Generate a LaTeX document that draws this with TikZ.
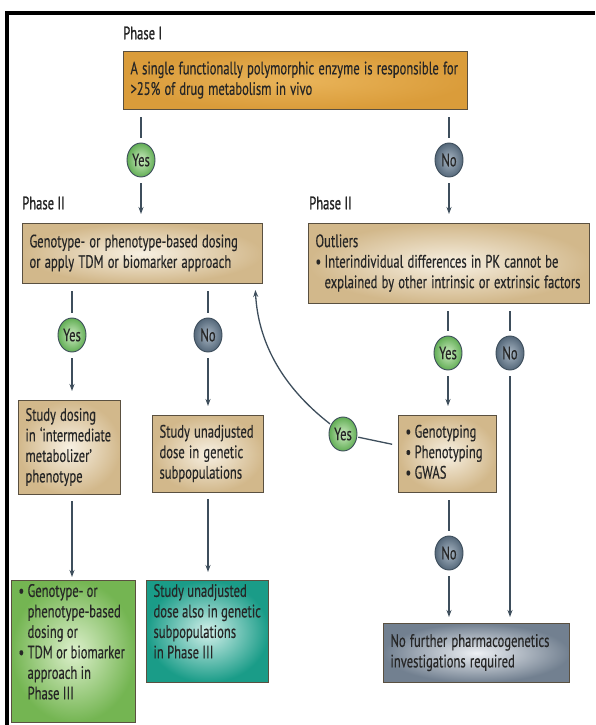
\documentclass[tikz,border=0pt]{standalone}
\usepackage{fontspec}
\usepackage{graphicx}
\setmainfont{PT Sans}[FakeBold=0.4]
\newfontfamily\phasefont{PT Sans}[FakeBold=1.2]
\usetikzlibrary{shapes.geometric,arrows.meta}
\definecolor{edgec}{HTML}{5A5040}
\definecolor{linec}{HTML}{3E4E5C}
\definecolor{txtc}{HTML}{262626}
\definecolor{orOut}{HTML}{DA9C3A}
\definecolor{orIn}{HTML}{E9B45A}
\definecolor{beOut}{HTML}{D2B88B}
\definecolor{beIn}{HTML}{F7F0E2}
\definecolor{grOut}{HTML}{74B552}
\definecolor{grIn}{HTML}{DDF0CC}
\definecolor{teOut}{HTML}{1A9C88}
\definecolor{teIn}{HTML}{D2F0EA}
\definecolor{gyOut}{HTML}{728090}
\definecolor{gyIn}{HTML}{EDF0F4}
\definecolor{yOut}{HTML}{62AE55}
\definecolor{yIn}{HTML}{CDEBC2}
\definecolor{nOut}{HTML}{55687A}
\definecolor{nIn}{HTML}{A9B7C4}
\newcommand{\bodyfont}{\fontsize{18}{20.5}\selectfont}
\newcommand{\sq}[1]{\scalebox{0.70}[1]{\begin{tabular}{@{}l@{}}#1\end{tabular}}}
\newcommand{\sqt}[1]{\scalebox{0.70}[1]{#1}}
\newcommand{\bul}{\makebox[13pt][l]{\textbullet}}
\newcommand{\ind}{\hspace*{13pt}}
\begin{document}
\begin{tikzpicture}[x=1pt,y=-1pt,
  box/.style={draw=edgec, line width=1pt, anchor=north west, align=left,
    inner xsep=7pt, inner ysep=0pt, font=\bodyfont, text=txtc},
  orangebox/.style={box, shade, inner color=orIn, outer color=orOut},
  beigebox/.style={box, shade, inner color=beIn, outer color=beOut},
  greenbox/.style={box, shade, inner color=grIn, outer color=grOut},
  tealbox/.style={box, shade, inner color=teIn, outer color=teOut},
  greybox/.style={box, shade, inner color=gyIn, outer color=gyOut},
  dot/.style={ellipse, minimum width=28pt, minimum height=34pt, inner sep=0pt,
    draw=linec, line width=0.9pt, font=\bodyfont, text=txtc},
  yesdot/.style={dot, shade, inner color=yIn, outer color=yOut},
  nodot/.style={dot, shade, inner color=nIn, outer color=nOut},
  phase/.style={anchor=west, inner sep=0pt, font=\phasefont\bodyfont, text=txtc},
  conn/.style={draw=linec, line width=1.3pt, shorten <=6pt, shorten >=5pt},
  arr/.style={conn, -{Stealth[length=7pt,width=5pt]}, shorten >=9pt}]
\useasboundingbox[fill=white] (0,0) rectangle (595,725);
% frame
\draw[line width=3.5pt, black] (7,725) -- (7,13) -- (595,13);

% phase labels
\node[phase] (p1) at (123,33) {\sqt{Phase I}};
\node[phase] (p2l) at (22,203) {\sqt{Phase II}};
\node[phase] (p2r) at (309,203) {\sqt{Phase II}};

% boxes
\node[orangebox, minimum width=344pt, minimum height=58pt, text width=330pt] (top) at (123,51)
  {\sq{A single functionally polymorphic enzyme is responsible for\\ >25\% of drug metabolism in vivo}};
\node[beigebox, minimum width=240pt, minimum height=60pt, text width=226pt] (l2) at (22,223)
  {\sq{Genotype- or phenotype-based dosing\\ or apply TDM or biomarker approach}};
\node[beigebox, minimum width=281pt, minimum height=80pt, text width=267pt] (r2) at (308,223)
  {\sq{Outliers\\ \bul Interindividual differences in PK cannot be\\ \ind explained by other intrinsic or extrinsic factors}};
\node[beigebox, minimum width=102pt, minimum height=94pt, text width=88pt] (sd) at (18,400)
  {\sq{Study dosing\\ in `intermediate\\ metabolizer'\\ phenotype}};
\node[beigebox, minimum width=111pt, minimum height=77pt, text width=97pt] (su) at (152,415)
  {\sq{Study unadjusted\\ dose in genetic\\ subpopulations}};
\node[beigebox, minimum width=98pt, minimum height=77pt, text width=84pt] (gt) at (398,415)
  {\sq{\bul Genotyping\\ \bul Phenotyping\\ \bul GWAS}};
\node[greenbox, minimum width=124pt, minimum height=142pt] (gb) at (11,580)
  {\parbox[c][138pt][t]{110pt}{\bodyfont\sq{%
   \bul Genotype- or\\ \ind phenotype-based\\ \ind dosing or\\ \bul TDM or biomarker\\ \ind approach in\\ \ind Phase III}}};
\node[tealbox, minimum width=122pt, minimum height=102pt] (tb) at (146,580)
  {\parbox[c][98pt][t]{108pt}{\bodyfont\sq{%
   Study unadjusted\\ dose also in genetic\\ subpopulations\\ in Phase III}}};
\node[greybox, minimum width=186pt, minimum height=59pt, text width=172pt] (gr) at (383,623)
  {\sq{No further pharmacogenetics\\ investigations required}};

% decision dots
\node[yesdot] (y1) at (141,160) {\sqt{Yes}};
\node[nodot]  (n1) at (449,160) {\sqt{No}};
\node[yesdot] (y2) at (72,335) {\sqt{Yes}};
\node[nodot]  (n2) at (208,335) {\sqt{No}};
\node[yesdot] (y3) at (448,353) {\sqt{Yes}};
\node[nodot]  (n3) at (510,353) {\sqt{No}};
\node[yesdot] (y4) at (343,434) {\sqt{Yes}};
\node[nodot]  (n4) at (449,553) {\sqt{No}};

\coordinate (loopend) at (255,283);

% connectors
\draw[conn, shorten <=7pt] (top.south -| y1) -- (y1);
\draw[arr] (y1) -- (y1 |- l2.north);
\draw[conn, shorten <=7pt] (top.south -| n1) -- (n1);
\draw[arr] (n1) -- (n1 |- r2.north);

\draw[conn, shorten <=7pt] (l2.south -| y2) -- (y2);
\draw[arr] (y2) -- (y2 |- sd.north);
\draw[conn, shorten <=7pt] (l2.south -| n2) -- (n2);
\draw[arr] (n2) -- (n2 |- su.north);

\draw[conn, shorten <=7pt] (r2.south -| y3) -- (y3);
\draw[arr] (y3) -- (y3 |- gt.north);
\draw[conn, shorten <=7pt] (r2.south -| n3) -- (n3);
\draw[arr, shorten >=6pt] (n3) -- (n3 |- gr.north);

\draw[conn, shorten <=7pt] (gt.south -| n4) -- (n4);
\draw[arr, shorten >=6pt] (n4) -- (n4 |- gr.north);

\draw[arr, shorten <=6pt, shorten >=3pt] (sd.south -| y2) -- (y2 |- gb.north);
\draw[arr, shorten <=6pt, shorten >=8pt] (su.south -| n2) -- (n2 |- tb.north);

\draw[conn, shorten <=6pt, shorten >=1pt] ([yshift=8.5pt]gt.west) -- (y4);
\draw[arr, shorten <=1pt, shorten >=7pt] (y4) .. controls (280,385) and (258,340) .. (loopend);
\end{tikzpicture}
\end{document}
